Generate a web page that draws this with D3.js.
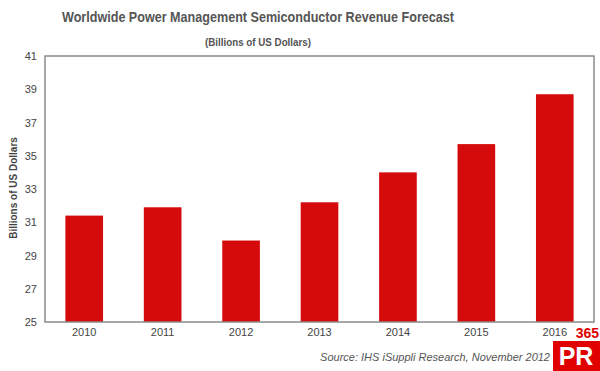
<!DOCTYPE html>
<html>
<head>
<meta charset="utf-8">
<script src="https://d3js.org/d3.v7.min.js"></script>
<style>
  body { margin: 0; background: #fff; }
  svg { font-family: "Liberation Sans", Arial, sans-serif; }
</style>
</head>
<body>
<svg width="600" height="371"></svg>
<script>
var years = ["2010", "2011", "2012", "2013", "2014", "2015", "2016"];
var revenue = [31.4, 31.9, 29.9, 32.2, 34.0, 35.7, 38.7];
var yTicks = [25, 27, 29, 31, 33, 35, 37, 39, 41];

var svg = d3.select("svg");
var margin = {left: 45, top: 56, right: 6, bottom: 49};
var w = 600 - margin.left - margin.right;
var h = 371 - margin.top - margin.bottom;

var x = d3.scaleBand().domain(years).range([margin.left, margin.left + w]).paddingInner(0.52).paddingOuter(0.26);
var y = d3.scaleLinear().domain([25, 41]).range([margin.top + h, margin.top]);

// title
svg.append("text")
  .attr("x", 258).attr("y", 22)
  .attr("text-anchor", "middle")
  .attr("textLength", 392).attr("lengthAdjust", "spacingAndGlyphs")
  .style("font-size", "14px").style("font-weight", "bold").style("fill", "#555")
  .text("Worldwide Power Management Semiconductor Revenue Forecast");
svg.append("text")
  .attr("x", 258).attr("y", 46)
  .attr("text-anchor", "middle")
  .attr("textLength", 106).attr("lengthAdjust", "spacingAndGlyphs")
  .style("font-size", "11px").style("font-weight", "bold").style("fill", "#555")
  .text("(Billions of US Dollars)");

// bars
svg.selectAll("rect.bar").data(revenue).enter().append("rect")
  .attr("class", "bar")
  .attr("x", (d, i) => x(years[i]))
  .attr("width", x.bandwidth())
  .attr("y", d => y(d))
  .attr("height", d => y(25) - y(d))
  .style("fill", "#d50a0a");

// frame
svg.append("rect")
  .attr("x", margin.left).attr("y", margin.top)
  .attr("width", w).attr("height", h)
  .style("fill", "none").style("stroke", "#8a8a8a").style("stroke-width", 1.5);

// y axis
var yAxis = d3.axisLeft(y).tickValues(yTicks).tickSize(0).tickPadding(8);
var gy = svg.append("g").attr("transform", `translate(${margin.left},0)`).call(yAxis);
gy.select(".domain").remove();
gy.selectAll("text").style("font-size", "11px").style("fill", "#444").style("font-family", "Liberation Sans, Arial, sans-serif");

// x axis
var xAxis = d3.axisBottom(x).tickSize(0).tickPadding(6);
var gx = svg.append("g").attr("transform", `translate(0,${margin.top + h})`).call(xAxis);
gx.select(".domain").remove();
gx.selectAll("text").style("font-size", "11px").style("fill", "#444").style("font-family", "Liberation Sans, Arial, sans-serif");

// y axis title
svg.append("text")
  .attr("transform", "translate(17,188) rotate(-90)")
  .attr("text-anchor", "middle")
  .style("font-size", "10px").style("font-weight", "bold").style("fill", "#444")
  .text("Billions of US Dollars");

// source (kept clear of the badge)
svg.append("text")
  .attr("x", 550).attr("y", 361)
  .attr("text-anchor", "end")
  .style("font-size", "11px").style("font-style", "italic").style("fill", "#555")
  .text("Source: IHS iSuppli Research, November 2012");

// 365PR badge
var badge = svg.append("g").attr("transform", "translate(553,325)");
badge.append("rect").attr("x", 0).attr("y", 16).attr("width", 47).attr("height", 30).style("fill", "#e00000");
badge.append("text").attr("x", 46).attr("y", 13)
  .attr("text-anchor", "end")
  .style("font-size", "14px").style("font-weight", "bold").style("fill", "#e00000")
  .text("365");
badge.append("text").attr("x", 23).attr("y", 40)
  .attr("text-anchor", "middle")
  .style("font-size", "25px").style("font-weight", "bold").style("fill", "#fff")
  .text("PR");
</script>
</body>
</html>
